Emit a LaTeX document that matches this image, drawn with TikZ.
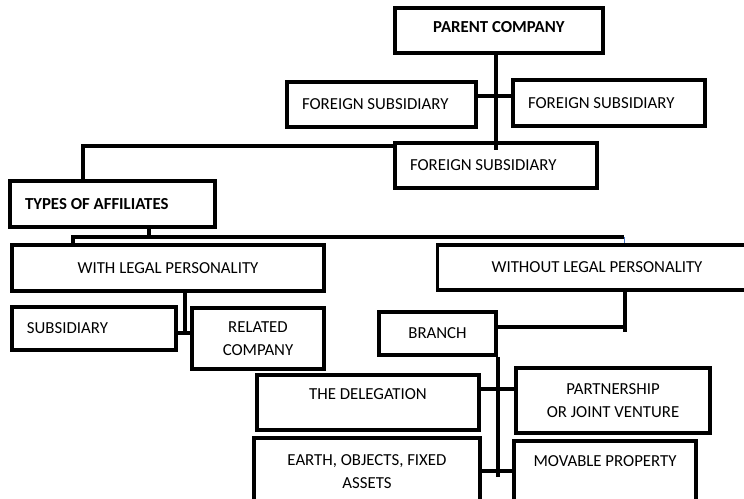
\documentclass[tikz,border=0pt]{standalone}
\usepackage{fontspec}
\setmainfont{Carlito}
\usepackage{tikz}

\begin{document}
\begin{tikzpicture}[x=1pt, y=-1pt,
  box/.style={draw, line width=3.6pt, inner sep=0pt, align=center,
    font=\fontsize{16.8pt}{23.5pt}\selectfont},
  link/.style={line width=3.6pt},
  thinlink/.style={line width=0.8pt, draw={rgb,255:red,68;green,114;blue,196}}]
\clip (0,0) rectangle (744,498);
\node[box, minimum width=208pt, minimum height=45pt, text depth=7pt] (parent) at (499,30.5) {\textbf{PARENT COMPANY}};
\node[box, minimum width=189pt, minimum height=45pt] (fsleft) at (381.5,104.5) {\makebox[159pt][l]{FOREIGN SUBSIDIARY}};
\node[box, minimum width=192pt, minimum height=46pt] (fsright) at (609,103) {\makebox[162pt][l]{FOREIGN SUBSIDIARY}};
\node[box, minimum width=202pt, minimum height=45pt] (fsbottom) at (496,165.5) {\makebox[172pt][l]{FOREIGN SUBSIDIARY}};
\node[box, minimum width=205pt, minimum height=46pt] (types) at (112.5,204) {\makebox[175pt][l]{\textbf{TYPES OF AFFILIATES}}};
\node[box, minimum width=312pt, minimum height=46pt] (wlp) at (168,268) {WITH LEGAL PERSONALITY};
\node[box, minimum width=319pt, minimum height=45pt] (wlpno) at (597,267.5) {WITHOUT LEGAL PERSONALITY};
\node[box, minimum width=164pt, minimum height=43pt] (subsid) at (94,328.5) {\makebox[134pt][l]{SUBSIDIARY}};
\node[box, minimum width=132pt, minimum height=61pt] (related) at (258,338.5) {RELATED\\COMPANY};
\node[box, minimum width=117pt, minimum height=43pt] (branch) at (437.5,333.5) {BRANCH};
\node[box, minimum width=222pt, minimum height=55pt] (deleg) at (368,402.5) {THE DELEGATION\\[-6pt]~};
\node[box, minimum width=194pt, minimum height=65pt] (partner) at (613,400.5) {PARTNERSHIP\\OR JOINT VENTURE};
\node[box, minimum width=226pt, minimum height=67pt] (earth) at (367,471.5) {EARTH, OBJECTS, FIXED\\ASSETS};
\node[box, minimum width=182pt, minimum height=64pt] (movable) at (605,473) {MOVABLE PROPERTY\\~};

\coordinate (fsjoin) at (496,96);
\coordinate (corner) at (83,146);
\coordinate (split) at (149,237);
\coordinate (busleft) at (73,237);
\coordinate (busright) at (624,237);
\coordinate (wlpjoin) at (185,333);
\coordinate (branchjoin) at (625,327);
\coordinate (delegjoin) at (497,389);
\coordinate (earthjoin) at (497,471);

\draw[link] ([xshift=-3pt]parent.south) -- ++(0,95);
\draw[link] (fsleft.east |- fsjoin) -- (fsright.west |- fsjoin);
\draw[link] (fsbottom.west |- corner) -- (corner) -- (corner |- types.north);
\draw[link] (split |- types.south) -- (split);
\draw[link] (busleft |- wlp.north) -- (busleft) -- (busright);
\draw[thinlink] (busright) -- (busright |- wlpno.north);
\draw[link] (wlpjoin |- wlp.south) -- (wlpjoin);
\draw[link] (subsid.east |- wlpjoin) -- (related.west |- wlpjoin);
\draw[link] (branchjoin |- wlpno.south) -- ([yshift=-5pt]branchjoin);
\draw[link] (branchjoin) -- (branch.east |- branchjoin);
\draw[link] (branch.south east) -- ++(0,120);
\draw[link] (deleg.east |- delegjoin) -- (partner.west |- delegjoin);
\draw[link] (earth.east |- earthjoin) -- (movable.west |- earthjoin);
\end{tikzpicture}
\end{document}
